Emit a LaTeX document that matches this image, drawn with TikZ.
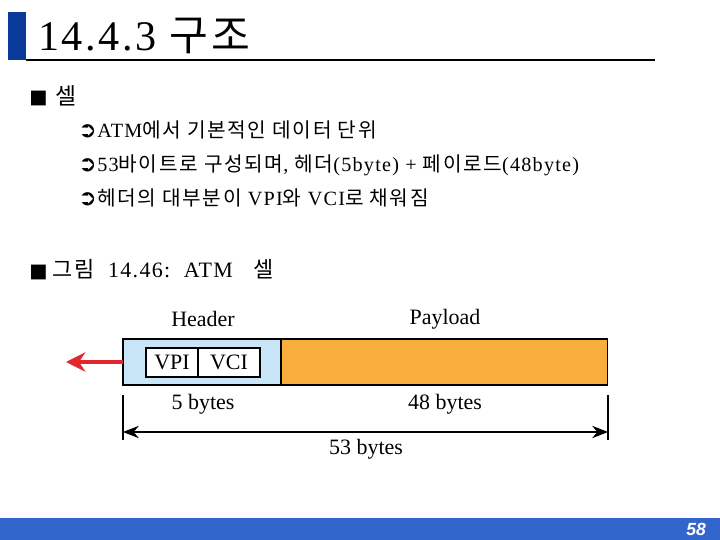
\documentclass[tikz,border=0pt]{standalone}
\usepackage{fontspec}
\setmainfont{Liberation Serif}
\newfontfamily\kr[LetterSpace=8]{Noto Sans CJK KR}
\newfontfamily\bodyfont[LetterSpace=6]{Liberation Serif}
\newfontfamily\sym{DejaVu Sans}
\newfontfamily\pagefont{Liberation Sans}
\usetikzlibrary{arrows.meta,positioning}

\definecolor{barblue}{HTML}{0A3A9A}
\definecolor{footblue}{HTML}{3366CC}
\definecolor{hdrblue}{HTML}{C8E6F8}
\definecolor{payorange}{HTML}{F8AE3C}
\definecolor{arrowred}{HTML}{E3262E}

\begin{document}
\begin{tikzpicture}[x=0.02cm,y=-0.02cm,
    txt/.style={anchor=base west,inner sep=0pt,font=\bodyfont\fontsize{11.5}{13}\selectfont},
    lbl/.style={inner sep=0pt,font=\fontsize{12.5}{14}\selectfont},
    cell/.style={draw,line width=0.6pt,inner sep=0pt,outer sep=0pt,minimum height=0.92cm}]
\useasboundingbox (0,0) rectangle (720,540);

% title
\fill[barblue] (8,12) rectangle (26,60);
\node[anchor=base west,inner sep=0pt,font=\bodyfont\fontsize{24}{28}\selectfont] (title) at (38,51) {14.4.3 {\kr 구조}};
\draw[line width=0.6pt] (26,60) -- (655,60);

% bullets
\node[txt] (b1) at (29,104) {\sym\fontsize{11}{12}\selectfont ■};
\node[txt,font=\fontsize{13}{14}\selectfont] (cellword) at (55,105) {\kr 셀};
\node[txt] (a1) at (78,138) {\sym\fontsize{12.5}{13}\selectfont ➲};
\node[txt] (l1) at (97,138) {ATM{\kr 에서 기본적인 데이터 단위}};
\node[txt] (a2) at (78,172) {\sym\fontsize{12.5}{13}\selectfont ➲};
\node[txt] (l2) at (97,172) {53{\kr 바이트로 구성되며}, {\kr 헤더}(5byte) + {\kr 페이로드}(48byte)};
\node[txt] (a3) at (78,206) {\sym\fontsize{12.5}{13}\selectfont ➲};
\node[txt] (l3) at (97,206) {{\kr 헤더의 대부분이} VPI{\kr 와} VCI{\kr 로 채워짐}};
\node[txt] (b2) at (29,278) {\sym\fontsize{11}{12}\selectfont ■};
\node[txt,font=\bodyfont\fontsize{12.5}{14}\selectfont] (fig) at (52,278) {{\kr 그림}\ \ 14.46:\ \ ATM\ \ \ {\kr 셀}};

% cell
\node[cell,fill=hdrblue,minimum width=3.16cm] (hdr) at (202,362) {};
\node[cell,fill=payorange,minimum width=6.54cm,anchor=west] (pay) at (hdr.east) {};
\node[cell,fill=white,minimum width=1.04cm,minimum height=0.58cm,font=\fontsize{12.5}{14}\selectfont] (vpi) at (172,362.5) {VPI};
\node[cell,fill=white,minimum width=1.24cm,minimum height=0.58cm,font=\fontsize{12.5}{14}\selectfont,anchor=west] (vci) at (vpi.east) {VCI};
\node[lbl] (hdrlbl) at (203,319) {Header};
\node[lbl] (paylbl) at (445,319) {Payload};
\node[lbl] (hdrsize) at (203,404) {5 bytes};
\node[lbl] (paysize) at (445,404) {48 bytes};

\coordinate (out) at (66,362);
\draw[arrowred,line width=2.3pt,-{Stealth[length=11pt,width=11pt]}] (hdr.west) -- (out);

\coordinate (t1) at (123,395);
\coordinate (t2) at (608,395);
\coordinate (d1) at (123,440);
\coordinate (d2) at (608,440);
\draw[line width=0.6pt] (t1) -- (d1);
\draw[line width=0.6pt] (t2) -- (d2);
\draw[line width=0.8pt,{Stealth[length=9pt,width=7pt]}-{Stealth[length=9pt,width=7pt]}] (123,432) -- (608,432);
\node[lbl] (total) at (366,449) {53 bytes};

% footer
\fill[footblue] (0,518) rectangle (720,540);
\node[anchor=east,text=white,font=\pagefont\bfseries\itshape\fontsize{10}{12}\selectfont] (page) at (712,529) {58};
\end{tikzpicture}
\end{document}
